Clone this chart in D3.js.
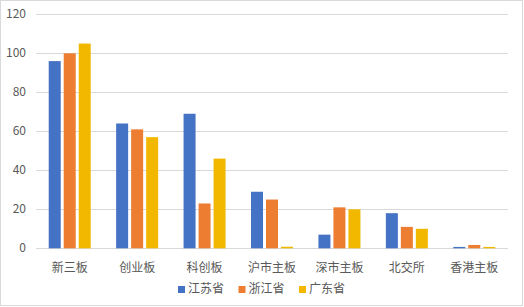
<!DOCTYPE html>
<html>
<head>
<meta charset="utf-8">
<script src="https://cdn.jsdelivr.net/npm/d3@7"></script>
<style>
  body { margin: 0; background: #fff; }
  text { font-family: "Noto Sans CJK SC", "Liberation Sans", sans-serif; }
</style>
</head>
<body>
<div id="chart"></div>
<script>
// categories and series
const categories = ["新三板", "创业板", "科创板", "沪市主板", "深市主板", "北交所", "香港主板"];
const seriesNames = ["江苏省", "浙江省", "广东省"];
const jiangsu = [96, 64, 69, 29, 7, 18, 0.7];
const zhejiang = [100, 61, 23, 25, 21, 11, 1.7];
const guangdong = [105, 57, 46, 0.8, 20, 10, 0.7];
const yTicks = [0, 20, 40, 60, 80, 100, 120];
const colors = ["#4472C4", "#ED7D31", "#F2B800"];

const W = 524, H = 307;
const margin = { top: 14.3, right: 16, bottom: 58.7, left: 36 };

const svg = d3.select("#chart")
    .append("svg")
    .attr("width", W)
    .attr("height", H);

// chart border
svg.append("rect")
    .attr("x", 0.5).attr("y", 0.5)
    .attr("width", W - 2).attr("height", H - 2)
    .attr("fill", "#fff")
    .attr("stroke", "#d9d9d9");

const data = categories.map((c, i) => ({
    cat: c,
    values: [jiangsu[i], zhejiang[i], guangdong[i]]
}));

const x0 = d3.scaleBand()
    .domain(categories)
    .range([margin.left, W - margin.right])
    .padding(0);

const groupW = 42;
const x1 = d3.scaleBand()
    .domain(seriesNames)
    .range([0, groupW])
    .paddingInner(0.2);

const y = d3.scaleLinear()
    .domain([0, 120])
    .range([H - margin.bottom, margin.top]);

// gridlines
svg.append("g")
    .selectAll("line")
    .data(yTicks)
    .enter().append("line")
    .attr("x1", margin.left)
    .attr("x2", W - margin.right)
    .attr("y1", d => Math.round(y(d)) + 0.5)
    .attr("y2", d => Math.round(y(d)) + 0.5)
    .attr("stroke", "#d9d9d9")
    .attr("stroke-width", 1);

// y tick labels
svg.append("g")
    .selectAll("text")
    .data(yTicks)
    .enter().append("text")
    .attr("x", 26)
    .attr("y", d => y(d) + 4)
    .attr("text-anchor", "end")
    .attr("fill", "#595959")
    .style("font-size", "12px")
    .text(d => d);

// bars
const groups = svg.append("g")
    .selectAll("g")
    .data(data)
    .enter().append("g")
    .attr("transform", d => `translate(${x0(d.cat) + (x0.bandwidth() - groupW) / 2},0)`);

groups.selectAll("rect")
    .data(d => d.values.map((v, i) => ({ key: seriesNames[i], value: v, i: i })))
    .enter().append("rect")
    .attr("x", d => x1(d.key))
    .attr("y", d => y(d.value))
    .attr("width", x1.bandwidth())
    .attr("height", d => y(0) - y(d.value))
    .attr("fill", d => colors[d.i]);

// category labels
svg.append("g")
    .selectAll("text")
    .data(categories)
    .enter().append("text")
    .attr("x", d => x0(d) + x0.bandwidth() / 2)
    .attr("y", 271.5)
    .attr("text-anchor", "middle")
    .attr("fill", "#595959")
    .style("font-size", "12px")
    .text(d => d);

// legend
const legendX = 178, legendStep = 60.5;
const legend = svg.append("g")
    .selectAll("g")
    .data(seriesNames)
    .enter().append("g")
    .attr("transform", (d, i) => `translate(${legendX + i * legendStep},0)`);

legend.append("rect")
    .attr("x", 0).attr("y", 286)
    .attr("width", 7).attr("height", 7)
    .attr("fill", (d, i) => colors[i]);

legend.append("text")
    .attr("x", 10)
    .attr("y", 292.5)
    .attr("fill", "#595959")
    .style("font-size", "12px")
    .text(d => d);
</script>
</body>
</html>
